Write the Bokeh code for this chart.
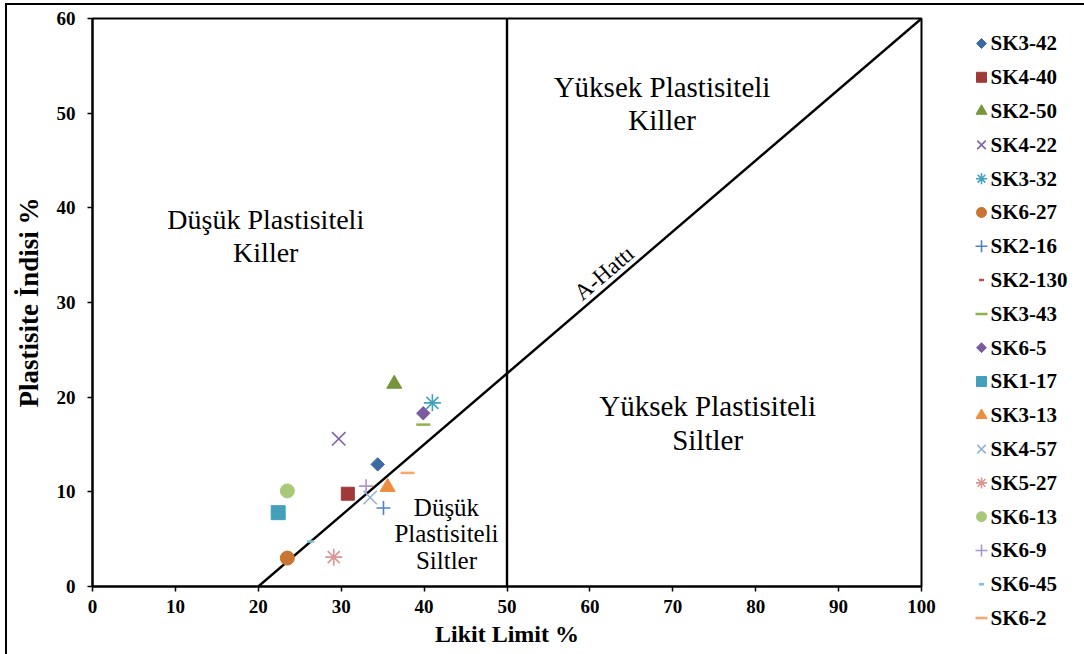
import math
from bokeh.plotting import figure
from bokeh.layouts import row, column
from bokeh.models import Range1d, FixedTicker, Label
from bokeh.core.properties import value
from bokeh.embed import file_html
from bokeh.resources import INLINE

# ---- data ----
names = ["SK3-42", "SK4-40", "SK2-50", "SK4-22", "SK3-32", "SK6-27", "SK2-16", "SK2-130",
         "SK3-43", "SK6-5", "SK1-17", "SK3-13", "SK4-57", "SK5-27", "SK6-13", "SK6-9",
         "SK6-45", "SK6-2"]
likit_limit = [34.4, 30.8, 36.4, 29.7, 41.0, 23.5, 35.1, 30.8,
               39.9, 39.9, 22.4, 35.6, 33.5, 29.1, 23.5, 33.0,
               26.3, 38.0]
plastisite = [12.9, 9.8, 21.4, 15.6, 19.4, 3.0, 8.3, 9.8,
              17.1, 18.3, 7.8, 10.5, 9.4, 3.1, 10.1, 10.6,
              4.75, 12.0]
markers = ["square", "square", "triangle", "x", "asterisk", "circle", "cross", "dash",
           "dash", "square", "square", "triangle", "x", "asterisk", "circle", "cross",
           "dash", "dash"]
angles = [math.pi / 4, 0, 0, 0, 0, 0, 0, 0, 0, math.pi / 4, 0, 0, 0, 0, 0, 0, 0, 0]
sizes = [9.5, 13, 15, 19, 17, 14, 14, 6, 14, 9.5, 14, 15, 19, 17, 14, 14, 7, 14]
legend_sizes = [7, 10, 11, 12, 11, 10, 12, 5, 12, 7, 10, 11, 12, 11, 10, 12, 5, 12]
colors = ["#3C69A2", "#A03A38", "#77963B", "#8064A2", "#3FA3BE", "#C97430", "#4F81D0", "#C0504D",
          "#8DB24A", "#7A5C9E", "#44A0BA", "#F08C3E", "#95B3D7", "#D99694", "#A8C97A", "#A897C4",
          "#7CC3D8", "#F9A56E"]
draw_order = [7, 0, 1, 2, 3, 4, 5, 6, 8, 9, 10, 11, 12, 13, 14, 15, 16, 17]

x_ticks = [0, 10, 20, 30, 40, 50, 60, 70, 80, 90, 100]
y_ticks = [0, 10, 20, 30, 40, 50, 60]

a_line_x = [20, 100]
a_line_y = [0, 60]
ll50_x = [50, 50]
ll50_y = [0, 60]

SERIF = "Liberation Serif"


def marker_kw(i, size):
    mk = markers[i]
    kw = dict(marker=mk, size=size, angle=angles[i], color=colors[i])
    if mk in ("x", "asterisk", "cross"):
        kw["line_width"] = 1.6
    elif mk == "dash":
        kw["line_width"] = 2.5
    return kw


# main chart: canvas starts at page (7, 5) because of the outer border
p = figure(width=934, height=649, output_backend="svg", toolbar_location=None,
           x_range=Range1d(0, 100), y_range=Range1d(0, 60),
           min_border_left=85, min_border_right=20, min_border_top=13, min_border_bottom=68)
p.xgrid.visible = False
p.ygrid.visible = False
p.outline_line_color = "black"
p.outline_line_width = 2
p.background_fill_color = "white"
p.border_fill_color = "white"

for ax, ticks in ((p.xaxis[0], x_ticks), (p.yaxis[0], y_ticks)):
    ax.ticker = FixedTicker(ticks=ticks)
    ax.minor_tick_line_color = None
    ax.major_tick_in = 0
    ax.major_tick_out = 5
    ax.major_tick_line_color = "black"
    ax.major_tick_line_width = 1.5
    ax.axis_line_color = "black"
    ax.axis_line_width = 2
    ax.major_label_text_font = SERIF
    ax.major_label_text_font_style = "bold"
    ax.major_label_text_font_size = "19px"
    ax.major_label_text_color = "black"
    ax.axis_label_text_font = SERIF
    ax.axis_label_text_font_style = "bold"
    ax.axis_label_text_color = "black"

p.xaxis.axis_label = "Likit Limit %"
p.yaxis.axis_label = "Plastisite İndisi %"
p.xaxis.axis_label_text_font_size = "24px"
p.yaxis.axis_label_text_font_size = "27px"
p.xaxis.major_label_standoff = 8
p.xaxis.axis_label_standoff = 5
p.yaxis.major_label_standoff = 12
p.yaxis.axis_label_standoff = 10

p.line(a_line_x, a_line_y, line_color="black", line_width=2.4)
p.line(ll50_x, ll50_y, line_color="black", line_width=2.4)

for i in draw_order:
    p.scatter([likit_limit[i]], [plastisite[i]], **marker_kw(i, sizes[i]))

# region labels (text centres)
region_txt = [("Yüksek Plastisiteli", 68.7, 52.8, 29), ("Killer", 68.7, 49.3, 29),
              ("Düşük Plastisiteli", 20.9, 38.8, 28), ("Killer", 20.9, 35.3, 28),
              ("Yüksek Plastisiteli", 74.2, 19.1, 29), ("Siltler", 74.2, 15.5, 29),
              ("Düşük", 42.7, 8.3, 25), ("Plastisiteli", 42.7, 5.55, 25), ("Siltler", 42.7, 2.7, 25)]
for t, x, y, fs in region_txt:
    p.add_layout(Label(x=x, y=y, text=t, text_align="center", text_baseline="middle",
                       text_font=SERIF, text_font_size=f"{fs}px", text_color="black"))

p.add_layout(Label(x=58.5, y=30.7, text="A-Hattı", angle=0.708, text_align="left",
                   text_baseline="alphabetic", text_font=SERIF, text_font_size="23px",
                   text_color="black"))

# legend panel (row index -> vertical position)
rows = list(range(len(names)))
leg = figure(width=143, height=649, output_backend="svg", toolbar_location=None,
             x_range=Range1d(0, 143), y_range=Range1d(-18.077, 1.124),
             x_axis_location=None, y_axis_location=None,
             min_border=0, min_border_left=0, min_border_right=0,
             min_border_top=0, min_border_bottom=0)
leg.xgrid.visible = False
leg.ygrid.visible = False
leg.outline_line_color = None
leg.background_fill_color = "white"
leg.border_fill_color = "white"
for i in rows:
    leg.scatter([40], [-i], **marker_kw(i, legend_sizes[i]))
leg.text(x=[49] * len(names), y=[-i for i in rows], text=names,
         text_font=value(SERIF), text_font_style="bold", text_font_size="21px",
         text_color="black", text_baseline="middle", text_align="left")

lay = row(p, column(leg), margin=(3, 0, 0, 5),
          styles={"border-left": "2px solid black", "border-top": "2px solid black"})

open("out.html", "w").write(file_html(lay, INLINE))
